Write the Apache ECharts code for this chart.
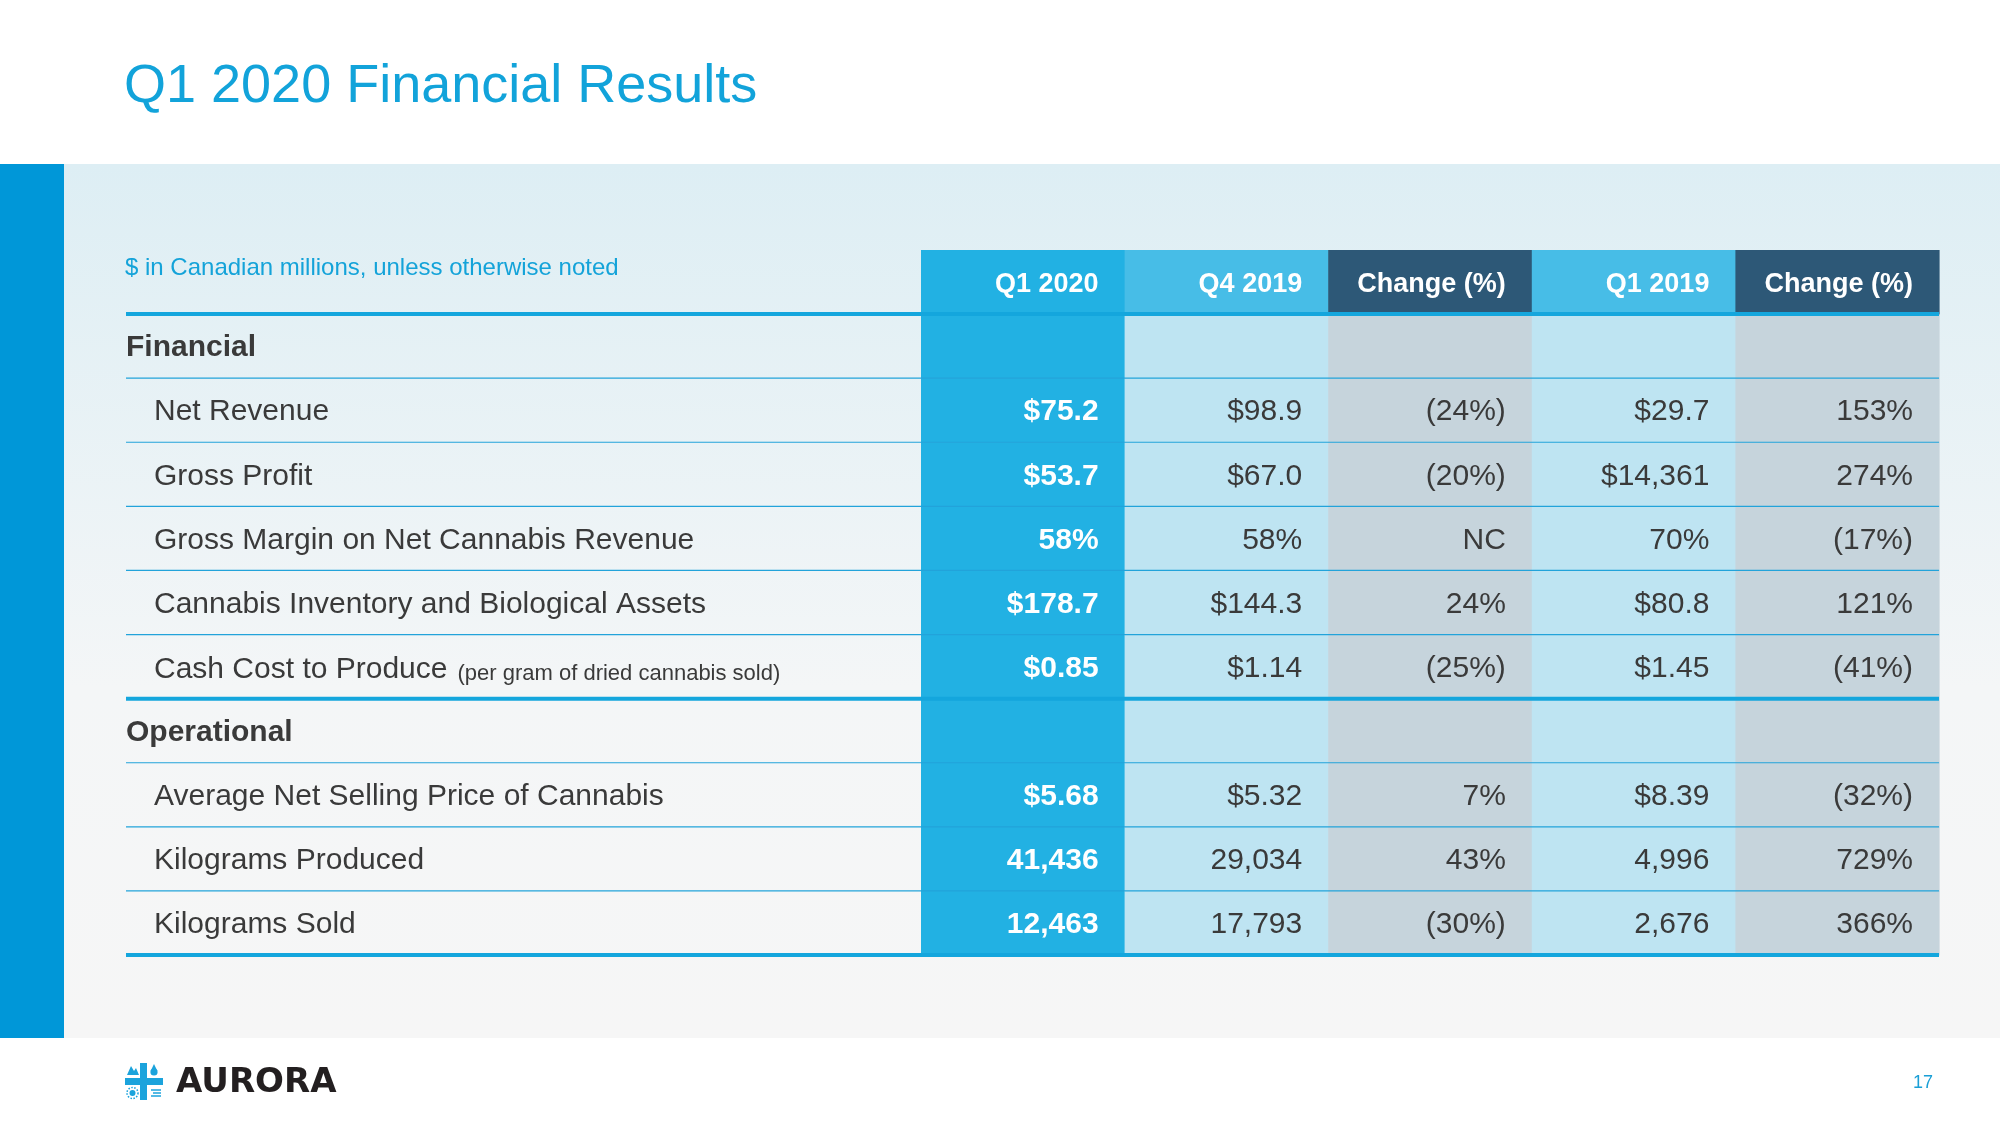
<!DOCTYPE html>
<html>
<head>
<meta charset="utf-8">
<script src="https://cdn.jsdelivr.net/npm/echarts@6/dist/echarts.min.js"></script>
<style>html,body{margin:0;padding:0;background:#ffffff}#c{width:2000px;height:1125px}</style>
</head>
<body>
<div id="c"></div>
<script>
// ---------- data ----------
const titleText = 'Q1 2020 Financial Results';
const noteText = '$ in Canadian millions, unless otherwise noted';
const columnHeaders = ['Q1 2020', 'Q4 2019', 'Change (%)', 'Q1 2019', 'Change (%)'];
const columnKinds = ['current', 'prior', 'change', 'prior', 'change'];
const rowLabels = [
  'Financial',
  'Net Revenue',
  'Gross Profit',
  'Gross Margin on Net Cannabis Revenue',
  'Cannabis Inventory and Biological Assets',
  'Cash Cost to Produce',
  'Operational',
  'Average Net Selling Price of Cannabis',
  'Kilograms Produced',
  'Kilograms Sold'
];
const rowNotes = ['', '', '', '', '', '(per gram of dried cannabis sold)', '', '', '', ''];
const sectionRows = [true, false, false, false, false, false, true, false, false, false];
const q1_2020 = ['', '$75.2', '$53.7', '58%', '$178.7', '$0.85', '', '$5.68', '41,436', '12,463'];
const q4_2019 = ['', '$98.9', '$67.0', '58%', '$144.3', '$1.14', '', '$5.32', '29,034', '17,793'];
const changeVsQ4 = ['', '(24%)', '(20%)', 'NC', '24%', '(25%)', '', '7%', '43%', '(30%)'];
const q1_2019 = ['', '$29.7', '$14,361', '70%', '$80.8', '$1.45', '', '$8.39', '4,996', '2,676'];
const changeVsQ1 = ['', '153%', '274%', '(17%)', '121%', '(41%)', '', '(32%)', '729%', '366%'];
const thickAfterRows = ['header', 'Cash Cost to Produce', 'Kilograms Sold'];
const pageNumber = '17';
const logoText = 'AURORA';

// ---------- build ----------
const columnValues = [q1_2020, q4_2019, changeVsQ4, q1_2019, changeVsQ1];
const rowKeys = ['header'].concat(rowLabels);
const FONT = "'Liberation Sans', Arial, Helvetica, sans-serif";
const TEXT = '#3a3a3a';
const TEXT_DY = 2;
const headerFill = { current: '#22b1e3', prior: '#47bde7', change: '#2d5877' };
const bodyFill = { current: '#22b1e3', prior: '#bee4f2', change: '#c6d4dc' };

const cellData = [];
for (let c = 0; c < columnHeaders.length; c++) {
  for (let r = 0; r < rowKeys.length; r++) cellData.push([c, r]);
}
const rowData = rowKeys.map((k, r) => [0, r]);

function renderCell(params, api) {
  const c = api.value(0), r = api.value(1);
  const p = api.coord([c, r]);
  const s = api.size([1, 1]);
  const x0 = p[0] - s[0] / 2, y0 = p[1] - s[1] / 2;
  const kind = columnKinds[c];
  const isHeader = r === 0;
  const fill = isHeader ? headerFill[kind] : bodyFill[kind];
  const txt = isHeader ? columnHeaders[c] : columnValues[c][r - 1];
  const white = isHeader || kind === 'current';
  return {
    type: 'group',
    children: [
      { type: 'rect', shape: { x: x0, y: y0, width: s[0] + 0.6, height: s[1] + 0.6 }, style: { fill: fill } },
      {
        type: 'text', x: x0 + s[0] - 26, y: p[1] + (isHeader ? 3 : TEXT_DY),
        style: {
          text: txt, align: 'right', verticalAlign: 'middle',
          fontFamily: FONT, fontSize: isHeader ? 27 : 30,
          fontWeight: white ? 'bold' : 'normal',
          fill: white ? '#ffffff' : TEXT
        }
      }
    ]
  };
}

function lineFor(api, r, left, right) {
  const p = api.coord([0, r]);
  const s = api.size([1, 1]);
  const y = p[1] + s[1] / 2;
  const thick = thickAfterRows.indexOf(rowKeys[r]) >= 0;
  if (thick) {
    return { type: 'rect', shape: { x: left, y: y - 2, width: right - left, height: 4 }, style: { fill: '#14a6dd' } };
  }
  if (r === 0) return null;
  return { type: 'line', shape: { x1: left, y1: y, x2: right, y2: y }, style: { stroke: '#22a3da', lineWidth: 1.2 } };
}

function renderLinesB(params, api) {
  const r = api.value(1);
  const s = api.size([1, 1]);
  const left = api.coord([0, r])[0] - s[0] / 2;
  const right = api.coord([columnHeaders.length - 1, r])[0] + s[0] / 2;
  return lineFor(api, r, left, right);
}
function renderLinesA(params, api) {
  const r = api.value(1);
  const s = api.size([1, 1]);
  const left = api.coord([0, r])[0] - s[0] / 2;
  return lineFor(api, r, left, left + s[0]);
}
function renderLabel(params, api) {
  const r = api.value(1);
  if (r === 0) return null;
  const p = api.coord([0, r]);
  const s = api.size([1, 1]);
  const x0 = p[0] - s[0] / 2;
  const i = r - 1;
  const isSection = sectionRows[i];
  let style;
  if (rowNotes[i]) {
    style = {
      text: '{a|' + rowLabels[i] + '}{b|' + rowNotes[i] + '}',
      rich: {
        a: { fontFamily: FONT, fontSize: 30, fill: TEXT, verticalAlign: 'bottom', lineHeight: 32 },
        b: { fontFamily: FONT, fontSize: 22, fill: TEXT, verticalAlign: 'bottom', lineHeight: 23, padding: [0, 0, 0, 10] }
      },
      align: 'left', verticalAlign: 'middle'
    };
  } else {
    style = {
      text: rowLabels[i], align: 'left', verticalAlign: 'middle',
      fontFamily: FONT, fontSize: 30, fontWeight: isSection ? 'bold' : 'normal', fill: TEXT
    };
  }
  return { type: 'text', x: x0 + (isSection ? 0 : 28), y: p[1] + TEXT_DY, style: style };
}

const chart = echarts.init(document.getElementById('c'), null, { renderer: 'canvas' });
chart.setOption({
  animation: false,
  backgroundColor: '#ffffff',
  graphic: [
    { type: 'rect', z: 0, shape: { x: 64, y: 164, width: 1936, height: 874 },
      style: { fill: new echarts.graphic.LinearGradient(0, 0, 0, 1, [
        { offset: 0, color: '#ddeef4' }, { offset: 0.6, color: '#f4f6f7' }, { offset: 1, color: '#f6f6f6' }]) } },
    { type: 'rect', z: 0, shape: { x: 0, y: 164, width: 64, height: 874 }, style: { fill: '#0097d8' } },
    { type: 'text', z: 1, x: 124, y: 87, style: { text: titleText, fontFamily: FONT, fontSize: 54, fill: '#12a3da', verticalAlign: 'middle' } },
    { type: 'text', z: 1, x: 125, y: 268, style: { text: noteText, fontFamily: FONT, fontSize: 24, fill: '#14a3d9', verticalAlign: 'middle' } },
    { type: 'text', z: 1, x: 1933, y: 1083, style: { text: pageNumber, fontFamily: FONT, fontSize: 18, fill: '#1a9fd6', align: 'right', verticalAlign: 'middle' } },
    { type: 'group', z: 1, children: [
      { type: 'rect', shape: { x: 140, y: 1063, width: 7, height: 37 }, style: { fill: '#1ba3dc' } },
      { type: 'rect', shape: { x: 125, y: 1078, width: 38, height: 7 }, style: { fill: '#1ba3dc' } },
      { type: 'polygon', shape: { points: [[127, 1075], [131, 1066], [134, 1071], [136, 1068], [139, 1075]] }, style: { fill: '#1ba3dc' } },
      { type: 'circle', shape: { cx: 154, cy: 1072, r: 3.6 }, style: { fill: '#1ba3dc' } },
      { type: 'polygon', shape: { points: [[150.6, 1071], [154, 1064], [157.4, 1071]] }, style: { fill: '#1ba3dc' } },
      { type: 'circle', shape: { cx: 132.5, cy: 1093, r: 3 }, style: { fill: '#1ba3dc' } },
      { type: 'circle', shape: { cx: 132.5, cy: 1093, r: 5.5 }, style: { fill: 'none', stroke: '#1ba3dc', lineWidth: 1.5, lineDash: [1.5, 1.5] } },
      { type: 'line', shape: { x1: 151, y1: 1090, x2: 161, y2: 1090 }, style: { stroke: '#1ba3dc', lineWidth: 1.5 } },
      { type: 'line', shape: { x1: 153, y1: 1093, x2: 161, y2: 1093 }, style: { stroke: '#1ba3dc', lineWidth: 1.5 } },
      { type: 'line', shape: { x1: 151, y1: 1096, x2: 161, y2: 1096 }, style: { stroke: '#1ba3dc', lineWidth: 1.5 } },
      { type: 'text', x: 176, y: 1083, style: { text: logoText, fontFamily: "'DejaVu Sans', sans-serif", fontWeight: 'bold', fontSize: 34, fill: '#231f20', verticalAlign: 'middle' } }
    ] }
  ],
  grid: [
    { left: 126, top: 250, width: 795, height: 705 },
    { left: 921, top: 250, width: 1018, height: 705 }
  ],
  xAxis: [
    { gridIndex: 0, type: 'category', data: ['label'], show: false },
    { gridIndex: 1, type: 'category', data: columnHeaders.map((h, i) => h + '#' + i), show: false }
  ],
  yAxis: [
    { gridIndex: 0, type: 'category', data: rowKeys, inverse: true, show: false },
    { gridIndex: 1, type: 'category', data: rowKeys, inverse: true, show: false }
  ],
  series: [
    { type: 'custom', name: 'cells', xAxisIndex: 1, yAxisIndex: 1, z: 2, data: cellData, renderItem: renderCell },
    { type: 'custom', name: 'linesB', xAxisIndex: 1, yAxisIndex: 1, z: 3, data: rowData, renderItem: renderLinesB },
    { type: 'custom', name: 'linesA', xAxisIndex: 0, yAxisIndex: 0, z: 3, data: rowData, renderItem: renderLinesA },
    { type: 'custom', name: 'labels', xAxisIndex: 0, yAxisIndex: 0, z: 4, data: rowData, renderItem: renderLabel }
  ]
});
</script>
</body>
</html>
